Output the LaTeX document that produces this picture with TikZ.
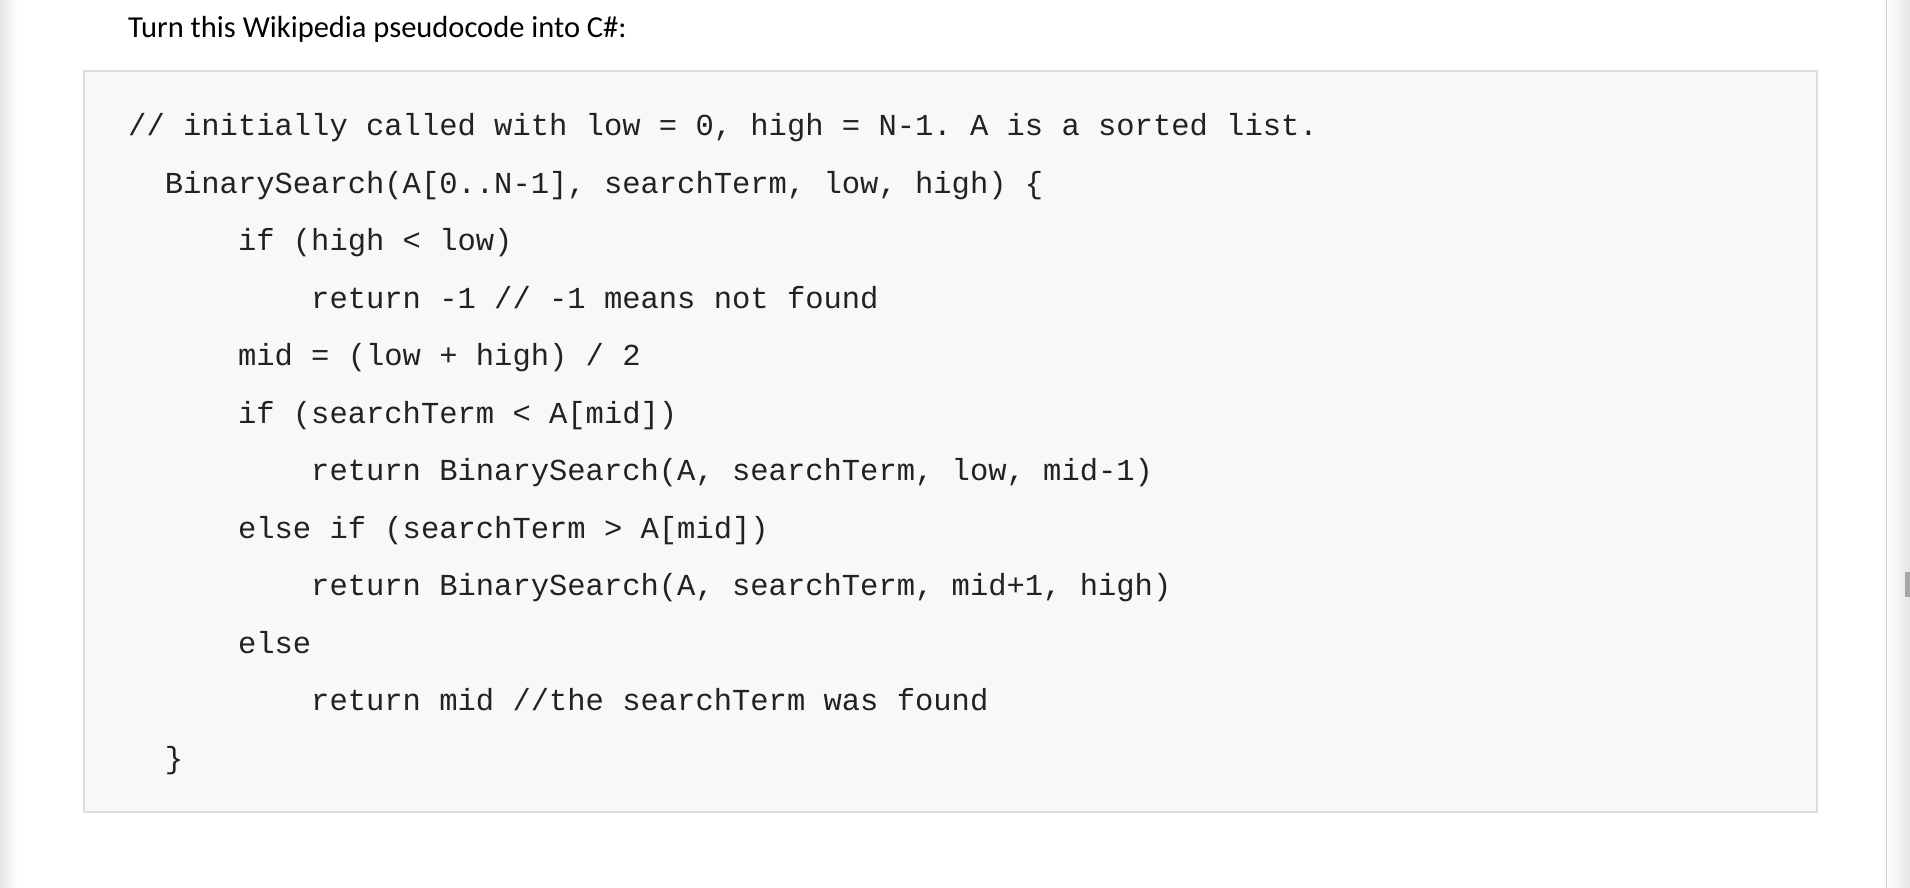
\documentclass[tikz,border=0pt]{standalone}
\usepackage{fontspec}
\setmainfont{Carlito}
\setmonofont{Liberation Mono}
\definecolor{boxfill}{HTML}{F8F8F8}
\definecolor{boxline}{HTML}{DDDDDD}
\definecolor{barc}{HTML}{E6E6E6}
\definecolor{txt}{HTML}{222222}
\begin{document}
\begin{tikzpicture}[x=1pt,y=-1pt,
  code/.style={anchor=west,inner sep=0pt,text height=21pt,text depth=6pt,font=\fontsize{30.5}{30.5}\ttfamily,text=txt}]
\useasboundingbox (0,0) rectangle (1910,888);
\fill[white] (0,0) rectangle (1910,888);
\shade[left color=barc,right color=white] (0,0) rectangle (18,888);
\shade[left color=white,right color=barc] (1886,0) rectangle (1910,888);
\draw[black!20,line width=1pt] (1886,0) -- (1886,888);
\fill[black!35] (1905,572) rectangle (1910,597);
\node[anchor=west,inner sep=0pt,font=\fontsize{30.5}{30.5}\selectfont,text=black] (title) at (128,29) {Turn this Wikipedia pseudocode into C\#:};
\draw[boxline,fill=boxfill,line width=2.5pt] (84,71) rectangle (1817,812);
\def\cw{18.3}
\node[code] (l1) at (128,128) {// initially called with low = 0, high = N-1. A is a sorted list.};
\node[code] (l2) at (128+2*\cw,185.5) {BinarySearch(A[0..N-1], searchTerm, low, high) \{};
\node[code] (l3) at (128+6*\cw,243) {if (high < low)};
\node[code] (l4) at (128+10*\cw,300.5) {return -1 // -1 means not found};
\node[code] (l5) at (128+6*\cw,358) {mid = (low + high) / 2};
\node[code] (l6) at (128+6*\cw,415.5) {if (searchTerm < A[mid])};
\node[code] (l7) at (128+10*\cw,473) {return BinarySearch(A, searchTerm, low, mid-1)};
\node[code] (l8) at (128+6*\cw,530.5) {else if (searchTerm > A[mid])};
\node[code] (l9) at (128+10*\cw,588) {return BinarySearch(A, searchTerm, mid+1, high)};
\node[code] (l10) at (128+6*\cw,645.5) {else};
\node[code] (l11) at (128+10*\cw,703) {return mid //the searchTerm was found};
\node[code] (l12) at (128+2*\cw,760.5) {\}};
\end{tikzpicture}
\end{document}
